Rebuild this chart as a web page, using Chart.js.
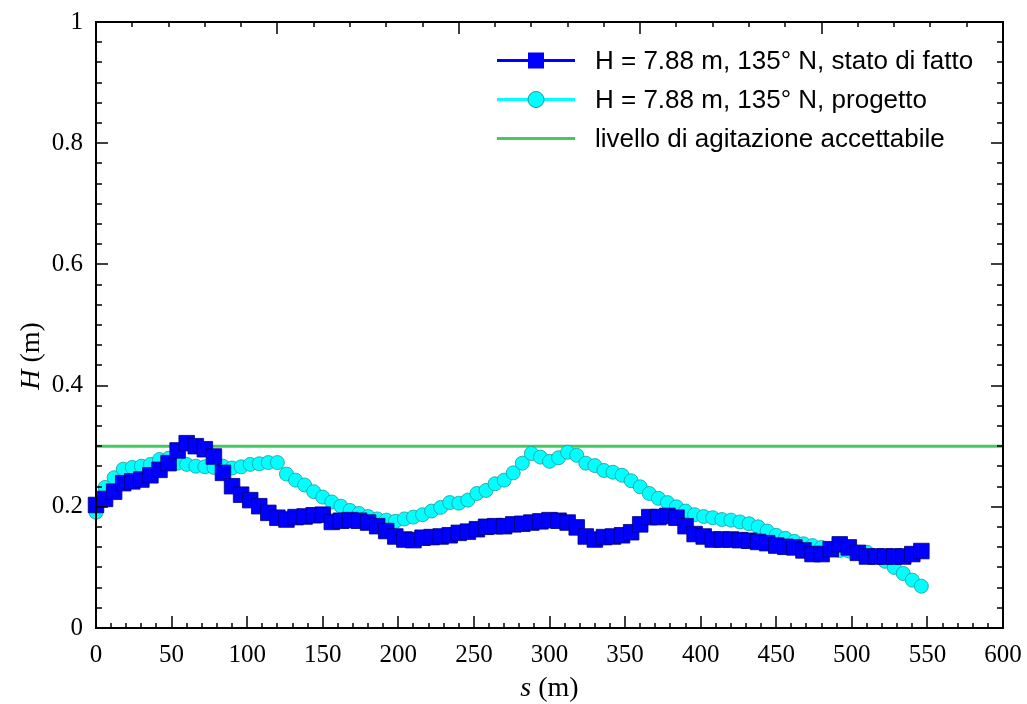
<!DOCTYPE html>
<html>
<head>
<meta charset="utf-8">
<script src="https://cdn.jsdelivr.net/npm/chart.js@4.4.0/dist/chart.umd.min.js"></script>
<style>
  html, body { margin: 0; padding: 0; background: #fff; }
  canvas { display: block; }
</style>
</head>
<body>
<canvas id="grafico" width="1027" height="704"></canvas>
<script>
// progressiva lungo il molo (m)
const sPunti = [0, 6, 12, 18, 24, 30, 36, 42, 48, 54,
  60, 66, 72, 78, 84, 90, 96, 102, 108, 114,
  120, 126, 132, 138, 144, 150, 156, 162, 168, 174,
  180, 186, 192, 198, 204, 210, 216, 222, 228, 234,
  240, 246, 252, 258, 264, 270, 276, 282, 288, 294,
  300, 306, 312, 318, 324, 330, 336, 342, 348, 354,
  360, 366, 372, 378, 384, 390, 396, 402, 408, 414,
  420, 426, 432, 438, 444, 450, 456, 462, 468, 474,
  480, 486, 492, 498, 504, 510, 516, 522, 528, 534,
  540, 546];

// H (m) stato di fatto
const hStatoDiFatto = [0.203, 0.213, 0.225, 0.239, 0.242, 0.245, 0.252, 0.261, 0.272, 0.293,
  0.305, 0.300, 0.295, 0.283, 0.256, 0.234, 0.220, 0.211, 0.201, 0.190,
  0.182, 0.179, 0.183, 0.184, 0.186, 0.187, 0.175, 0.177, 0.178, 0.177,
  0.174, 0.168, 0.160, 0.151, 0.146, 0.145, 0.149, 0.150, 0.151, 0.153,
  0.157, 0.159, 0.163, 0.167, 0.168, 0.168, 0.171, 0.172, 0.174, 0.176,
  0.178, 0.177, 0.174, 0.166, 0.151, 0.146, 0.150, 0.151, 0.153, 0.158,
  0.171, 0.183, 0.183, 0.185, 0.182, 0.168, 0.155, 0.151, 0.146, 0.146,
  0.146, 0.145, 0.144, 0.142, 0.140, 0.136, 0.134, 0.133, 0.128, 0.122,
  0.122, 0.130, 0.138, 0.133, 0.124, 0.118, 0.118, 0.118, 0.118, 0.118,
  0.122, 0.127];

// H (m) progetto
const hProgetto = [0.191, 0.232, 0.248, 0.262, 0.265, 0.267, 0.270, 0.278, 0.280, 0.272,
  0.270, 0.267, 0.266, 0.265, 0.267, 0.264, 0.266, 0.270, 0.271, 0.273,
  0.273, 0.254, 0.244, 0.236, 0.225, 0.216, 0.208, 0.201, 0.194, 0.189,
  0.184, 0.180, 0.178, 0.176, 0.180, 0.183, 0.187, 0.193, 0.199, 0.207,
  0.206, 0.211, 0.222, 0.227, 0.238, 0.244, 0.256, 0.272, 0.288, 0.282,
  0.275, 0.281, 0.290, 0.285, 0.272, 0.268, 0.260, 0.257, 0.252, 0.243,
  0.233, 0.222, 0.214, 0.207, 0.200, 0.193, 0.187, 0.184, 0.182, 0.179,
  0.178, 0.175, 0.172, 0.167, 0.160, 0.153, 0.148, 0.143, 0.139, 0.136,
  0.133, 0.130, 0.128, 0.127, 0.125, 0.125, 0.118, 0.110, 0.100, 0.090,
  0.079, 0.069];

// livello di agitazione accettabile
const sSoglia = [0, 600];
const hSoglia = [0.3, 0.3];

const xTicks = [0, 50, 100, 150, 200, 250, 300, 350, 400, 450, 500, 550, 600];
const yTicks = [0, 0.2, 0.4, 0.6, 0.8, 1];

const nomiSerie = [
  'H = 7.88 m, 135° N, stato di fatto',
  'H = 7.88 m, 135° N, progetto',
  'livello di agitazione accettabile'
];

const serif = "'Liberation Serif', 'Times New Roman', serif";
const sans = "'Liberation Sans', Arial, sans-serif";

const punti = (xs, ys) => xs.map((x, i) => ({ x: x, y: ys[i] }));

// niente margini extra: l'area del grafico la decide il layout
const senzaMargini = s => {
  s.paddingLeft = 0; s.paddingRight = 0; s.paddingTop = 0; s.paddingBottom = 0;
};

// cornice, tacche interne, titoli assi e legenda
const cornice = {
  id: 'cornice',
  afterDatasetsDraw(chart) {
    const { ctx, chartArea: a, scales } = chart;
    const x = scales.x, y = scales.y, xt = scales.xTop;
    ctx.save();
    ctx.strokeStyle = '#000';
    ctx.lineWidth = 1.5;
    ctx.beginPath();
    for (let k = 0; k <= 60; k++) {
      const px = Math.round(x.getPixelForValue(k * 10));
      const l = k % 5 === 0 ? 12 : 5;
      ctx.moveTo(px, a.bottom); ctx.lineTo(px, a.bottom - l);
    }
    for (let k = 0; k <= 25; k++) {
      const px = Math.round(xt.getPixelForValue(k));
      const l = k % 5 === 0 ? 12 : 5;
      ctx.moveTo(px, a.top); ctx.lineTo(px, a.top + l);
    }
    for (let k = 0; k <= 30; k++) {
      const py = Math.round(y.getPixelForValue(k / 30));
      const l = k % 6 === 0 ? 12 : 6;
      ctx.moveTo(a.left, py); ctx.lineTo(a.left + l, py);
      ctx.moveTo(a.right, py); ctx.lineTo(a.right - l, py);
    }
    ctx.stroke();
    ctx.lineWidth = 2;
    ctx.strokeRect(a.left, a.top, a.width, a.height);
    ctx.restore();
  },
  afterDraw(chart) {
    const { ctx, chartArea: a } = chart;
    ctx.save();
    ctx.fillStyle = '#000';
    ctx.textBaseline = 'middle';

    // titolo asse x: s (m)
    const fIt = 'italic 28px ' + serif, fUp = '28px ' + serif;
    ctx.font = fIt; const w1 = ctx.measureText('s').width;
    ctx.font = fUp; const w2 = ctx.measureText(' (m)').width;
    let x0 = (a.left + a.right) / 2 - (w1 + w2) / 2;
    ctx.textAlign = 'left';
    ctx.font = fIt; ctx.fillText('s', x0, 689);
    ctx.font = fUp; ctx.fillText(' (m)', x0 + w1, 689);

    // titolo asse y: H (m)
    ctx.translate(32, 356);
    ctx.rotate(-Math.PI / 2);
    ctx.font = fIt; const h1 = ctx.measureText('H').width;
    ctx.font = fUp; const h2 = ctx.measureText(' (m)').width;
    x0 = -(h1 + h2) / 2;
    ctx.font = fIt; ctx.fillText('H', x0, 0);
    ctx.font = fUp; ctx.fillText(' (m)', x0 + h1, 0);
    ctx.setTransform(1, 0, 0, 1, 0, 0);

    // legenda
    const righe = [60.5, 99.5, 138.5];
    chart.data.datasets.forEach((ds, i) => {
      const yy = righe[i];
      ctx.strokeStyle = ds.borderColor;
      ctx.lineWidth = ds.legendWidth;
      ctx.beginPath();
      ctx.moveTo(497, yy); ctx.lineTo(575, yy);
      ctx.stroke();
      if (ds.pointStyle === 'rect') {
        ctx.fillStyle = ds.pointBackgroundColor;
        ctx.fillRect(528, yy - 8, 16, 16);
      } else if (ds.pointRadius > 0) {
        ctx.fillStyle = ds.pointBackgroundColor;
        ctx.strokeStyle = ds.pointBorderColor;
        ctx.lineWidth = 1;
        ctx.beginPath();
        ctx.arc(536, yy, 8, 0, Math.PI * 2);
        ctx.fill(); ctx.stroke();
      }
      ctx.fillStyle = '#000';
      ctx.font = '26px ' + sans;
      ctx.textAlign = 'left';
      ctx.fillText(nomiSerie[i], 595, yy + 1);
    });
    ctx.restore();
  }
};

new Chart(document.getElementById('grafico'), {
  type: 'scatter',
  data: {
    datasets: [
      {
        label: nomiSerie[0],
        data: punti(sPunti, hStatoDiFatto),
        showLine: true,
        borderColor: '#0000ff',
        borderWidth: 2,
        legendWidth: 3,
        pointStyle: 'rect',
        pointRadius: 11,
        pointBackgroundColor: '#0000ff',
        pointBorderColor: '#00007a',
        pointBorderWidth: 0.8,
        clip: false
      },
      {
        label: nomiSerie[1],
        data: punti(sPunti, hProgetto),
        showLine: true,
        borderColor: '#00ffff',
        borderWidth: 2,
        legendWidth: 3,
        pointStyle: 'circle',
        pointRadius: 7,
        pointBackgroundColor: '#00ffff',
        pointBorderColor: '#1a9a9a',
        pointBorderWidth: 0.8,
        clip: false
      },
      {
        label: nomiSerie[2],
        data: punti(sSoglia, hSoglia),
        showLine: true,
        borderColor: '#44c864',
        borderWidth: 3,
        legendWidth: 3,
        pointRadius: 0
      }
    ]
  },
  options: {
    responsive: false,
    animation: false,
    events: [],
    layout: { padding: { top: 22, right: 24, left: 0, bottom: 0 } },
    plugins: { legend: { display: false }, tooltip: { enabled: false } },
    scales: {
      x: {
        type: 'linear',
        min: 0, max: 600,
        afterFit: s => { s.height = 76; senzaMargini(s); },
        afterBuildTicks: s => { s.ticks = xTicks.map(v => ({ value: v })); },
        grid: { display: false, drawTicks: false },
        border: { display: false },
        ticks: { padding: 12, color: '#000', maxRotation: 0, autoSkip: false,
                 callback: v => String(v),
                 font: { family: serif, size: 25 } }
      },
      xTop: {
        type: 'linear',
        position: 'top',
        min: 0, max: 25,
        display: false
      },
      y: {
        type: 'linear',
        min: 0, max: 1,
        afterFit: s => { s.width = 96; senzaMargini(s); },
        afterBuildTicks: s => { s.ticks = yTicks.map(v => ({ value: v })); },
        grid: { display: false, drawTicks: false },
        border: { display: false },
        ticks: { padding: 13, color: '#000', autoSkip: false,
                 callback: v => String(v),
                 font: { family: serif, size: 25 } }
      }
    }
  },
  plugins: [cornice]
});
</script>
</body>
</html>
